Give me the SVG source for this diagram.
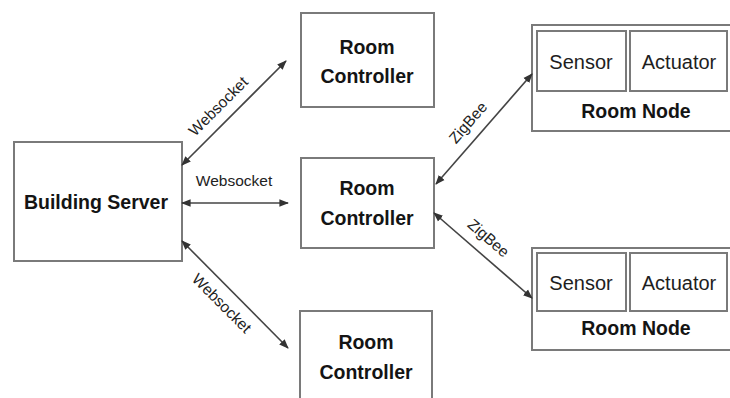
<svg xmlns="http://www.w3.org/2000/svg" width="730" height="398" viewBox="0 0 730 398">
  <style>
    .box { fill: #ffffff; stroke: #7a7a7a; stroke-width: 2; }
    .title { font-family: "Liberation Sans", Arial, sans-serif; font-weight: bold; font-size: 19.5px; fill: #141414; text-anchor: middle; }
    .part { font-family: "Liberation Sans", Arial, sans-serif; font-size: 20px; fill: #1e1e1e; text-anchor: middle; }
    .link { stroke: #444444; stroke-width: 1.6; fill: none; marker-start: url(#head); marker-end: url(#head); }
    .proto { font-family: "Liberation Sans", Arial, sans-serif; font-size: 15.5px; fill: #222222; text-anchor: middle; }
  </style>
  <defs>
    <marker id="head" viewBox="0 0 10 10" refX="9" refY="5" markerWidth="6" markerHeight="6" markerUnits="strokeWidth" orient="auto-start-reverse">
      <path d="M0,1 L10,5 L0,9 Z" fill="#333333"/>
    </marker>
  </defs>
  <rect width="730" height="398" fill="#ffffff"/>

  <g id="building-server">
    <rect class="box" x="14" y="142" width="168" height="119"/>
    <text class="title" x="96" y="209">Building Server</text>
  </g>

  <g id="room-controller-1">
    <rect class="box" x="301" y="13" width="133" height="94"/>
    <text class="title" x="367" y="54">Room</text>
    <text class="title" x="367" y="83">Controller</text>
  </g>

  <g id="room-controller-2">
    <rect class="box" x="301" y="158" width="133" height="90"/>
    <text class="title" x="367" y="195">Room</text>
    <text class="title" x="367" y="225">Controller</text>
  </g>

  <g id="room-controller-3">
    <rect class="box" x="300" y="311" width="132" height="96"/>
    <text class="title" x="366" y="349">Room</text>
    <text class="title" x="366" y="379">Controller</text>
  </g>

  <g id="room-node-1">
    <rect class="box" x="532" y="25" width="202" height="106"/>
    <rect class="box" x="537" y="31" width="89" height="60"/>
    <rect class="box" x="630" y="31" width="97" height="60"/>
    <text class="part" x="581" y="69">Sensor</text>
    <text class="part" x="679" y="69">Actuator</text>
    <text class="title" x="636" y="118">Room Node</text>
  </g>

  <g id="room-node-2">
    <rect class="box" x="532" y="248" width="202" height="102"/>
    <rect class="box" x="537" y="253" width="89" height="58"/>
    <rect class="box" x="630" y="253" width="97" height="58"/>
    <text class="part" x="581" y="290">Sensor</text>
    <text class="part" x="679" y="290">Actuator</text>
    <text class="title" x="636" y="335">Room Node</text>
  </g>

  <g id="connectors">
    <line class="link" x1="182" y1="165" x2="286" y2="61"/>
    <line class="link" x1="182" y1="203" x2="288" y2="203"/>
    <line class="link" x1="182" y1="241" x2="288" y2="348"/>
    <line class="link" x1="436" y1="184" x2="532" y2="74"/>
    <line class="link" x1="434" y1="213" x2="532" y2="298"/>

    <text class="proto" transform="translate(222,110) rotate(-45)">Websocket</text>
    <text class="proto" x="234" y="186">Websocket</text>
    <text class="proto" transform="translate(218,307) rotate(45)">Websocket</text>
    <text class="proto" transform="translate(472,126) rotate(-49)">ZigBee</text>
    <text class="proto" transform="translate(485,242) rotate(41)">ZigBee</text>
  </g>
</svg>
